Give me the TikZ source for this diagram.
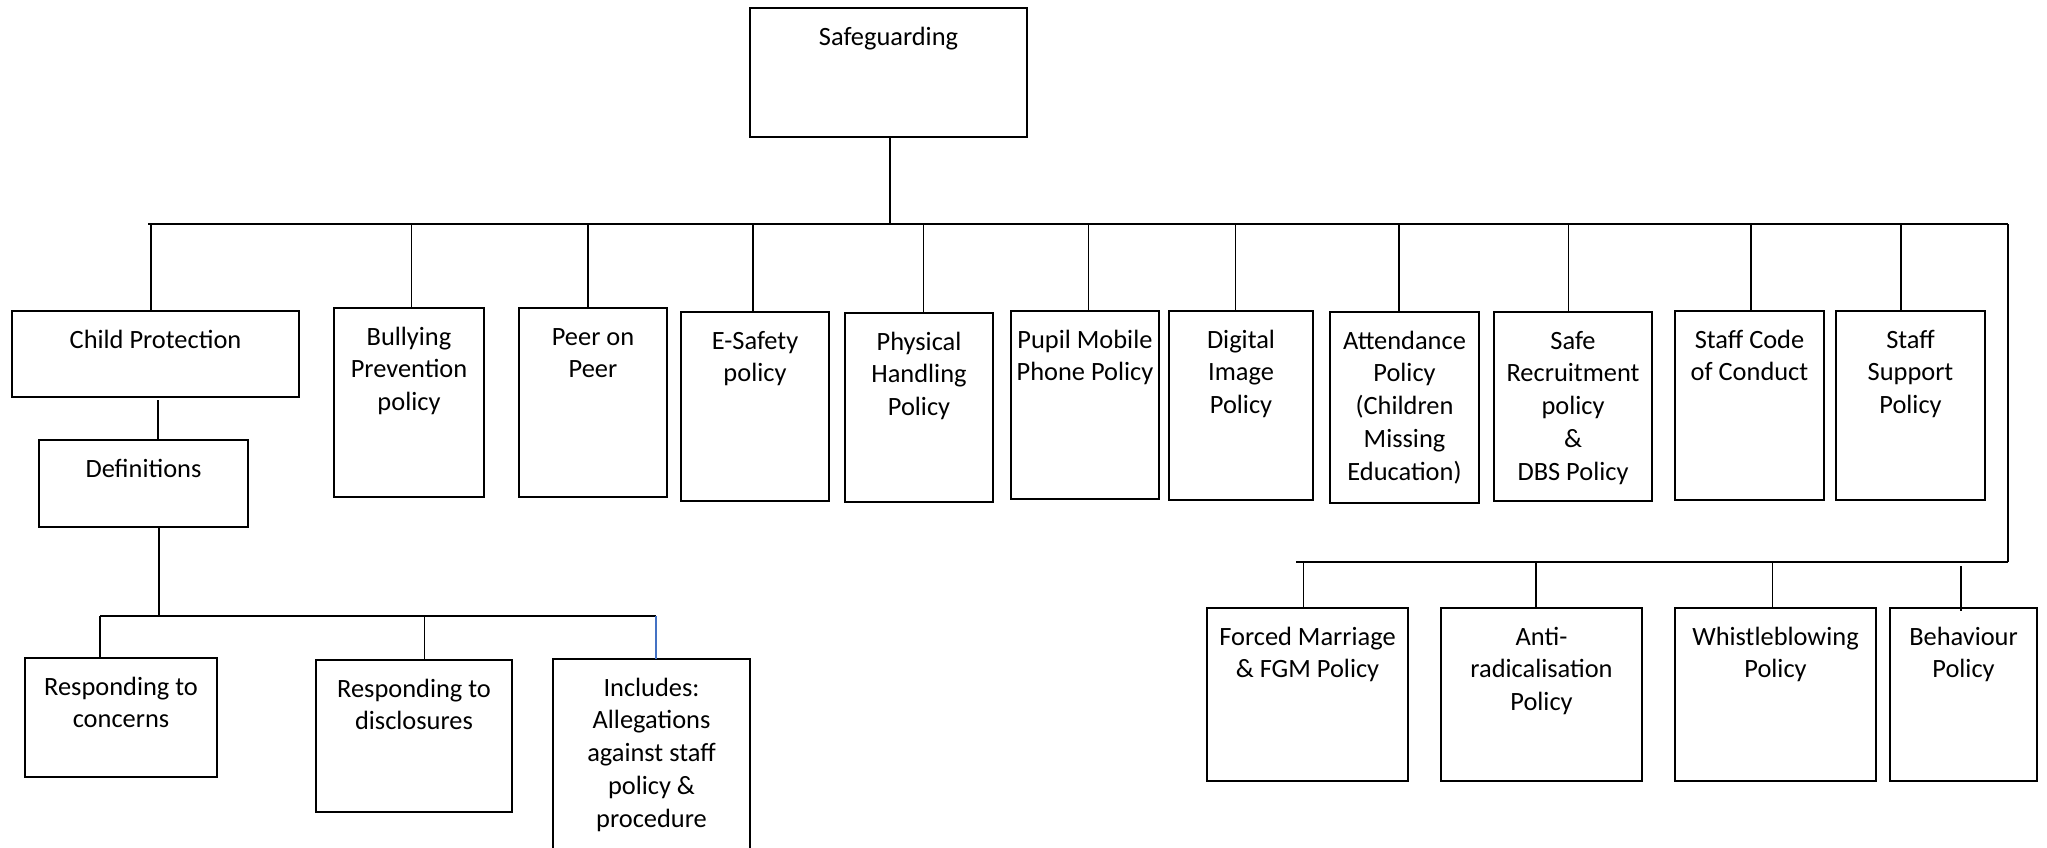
\documentclass[tikz,border=0pt]{standalone}
\usepackage{fontspec}
\setmainfont{Carlito}
\usetikzlibrary{calc}
\definecolor{linkblue}{RGB}{68,114,196}
\newcommand{\mlines}[1]{\begin{tabular}[t]{@{}c@{}}#1\end{tabular}}
\begin{document}
\begin{tikzpicture}[x=1pt,y=-1pt,
  box/.style={draw, line width=1.6pt, inner sep=0pt, outer sep=0pt, anchor=north west},
  lbl/.style={anchor=base, inner sep=0pt, outer sep=0pt, font=\fontsize{26.4}{32.8}\selectfont},
  conn/.style={line width=1.4pt},
  busline/.style={line width=1.8pt}]
\fill[white] (0,0) rectangle (2047,847);
\useasboundingbox (0,0) rectangle (2047,847);
\clip (0,0) rectangle (2047,847);

% boxes
\node[box, minimum width=277pt, minimum height=129pt] (safe) at (750,8) {};
\node[box, minimum width=287pt, minimum height=86pt] (cp) at (12,311) {};
\node[box, minimum width=150pt, minimum height=189pt] (bully) at (334,308) {};
\node[box, minimum width=148pt, minimum height=189pt] (peer) at (519,308) {};
\node[box, minimum width=148pt, minimum height=189pt] (esafe) at (681,312) {};
\node[box, minimum width=148pt, minimum height=189pt] (phys) at (845,313) {};
\node[box, minimum width=148pt, minimum height=188pt] (pupil) at (1011,311) {};
\node[box, minimum width=144pt, minimum height=189pt] (digi) at (1169,311) {};
\node[box, minimum width=149pt, minimum height=191pt] (attend) at (1330,312) {};
\node[box, minimum width=158pt, minimum height=189pt] (safer) at (1494,312) {};
\node[box, minimum width=149pt, minimum height=189pt] (code) at (1675,311) {};
\node[box, minimum width=149pt, minimum height=189pt] (support) at (1836,311) {};
\node[box, minimum width=209pt, minimum height=87pt] (defs) at (39,440) {};
\node[box, minimum width=192pt, minimum height=119pt] (rconc) at (25,658) {};
\node[box, minimum width=196pt, minimum height=152pt] (rdisc) at (316,660) {};
\node[box, minimum width=197pt, minimum height=220pt] (incl) at (553,659) {};
\node[box, minimum width=201pt, minimum height=173pt] (forced) at (1207,608) {};
\node[box, minimum width=201pt, minimum height=173pt] (anti) at (1441,608) {};
\node[box, minimum width=201pt, minimum height=173pt] (whistle) at (1675,608) {};
\node[box, minimum width=147pt, minimum height=173pt] (behav) at (1890,608) {};

% texts
\node[lbl] (t-safe) at ([yshift=-37pt]safe.north) {\mlines{Safeguarding}};
\node[lbl] (t-cp) at ([yshift=-37pt]cp.north) {\mlines{Child Protection}};
\node[lbl] (t-bully) at ([yshift=-37pt]bully.north) {\mlines{Bullying\\Prevention\\policy}};
\node[lbl] (t-peer) at ([yshift=-37pt]peer.north) {\mlines{Peer on\\Peer}};
\node[lbl] (t-esafe) at ([yshift=-37pt]esafe.north) {\mlines{E-Safety\\policy}};
\node[lbl] (t-phys) at ([yshift=-37pt]phys.north) {\mlines{Physical\\Handling\\Policy}};
\node[lbl] (t-pupil) at ([yshift=-37pt]pupil.north) {\mlines{Pupil Mobile\\Phone Policy}};
\node[lbl] (t-digi) at ([yshift=-37pt]digi.north) {\mlines{Digital\\Image\\Policy}};
\node[lbl] (t-attend) at ([yshift=-37pt]attend.north) {\mlines{Attendance\\Policy\\(Children\\Missing\\Education)}};
\node[lbl] (t-safer) at ([yshift=-37pt]safer.north) {\mlines{Safe\\Recruitment\\policy\\\&\\DBS Policy}};
\node[lbl] (t-code) at ([yshift=-37pt]code.north) {\mlines{Staff Code\\of Conduct}};
\node[lbl] (t-support) at ([yshift=-37pt]support.north) {\mlines{Staff\\Support\\Policy}};
\node[lbl] (t-defs) at ([yshift=-37pt]defs.north) {\mlines{Definitions}};
\node[lbl] (t-rconc) at ([yshift=-37pt]rconc.north) {\mlines{Responding to\\concerns}};
\node[lbl] (t-rdisc) at ([yshift=-37pt]rdisc.north) {\mlines{Responding to\\disclosures}};
\node[lbl] (t-incl) at ([yshift=-37pt]incl.north) {\mlines{Includes:\\Allegations\\against staff\\policy \&\\procedure}};
\node[lbl] (t-forced) at ([yshift=-37pt]forced.north) {\mlines{Forced Marriage\\\& FGM Policy}};
\node[lbl] (t-anti) at ([yshift=-37pt]anti.north) {\mlines{Anti-\\radicalisation\\Policy}};
\node[lbl] (t-whistle) at ([yshift=-37pt]whistle.north) {\mlines{Whistleblowing\\Policy}};
\node[lbl] (t-behav) at ([yshift=-37pt]behav.north) {\mlines{Behaviour\\Policy}};

% bus coordinates
\coordinate (busL) at (148,224);
\coordinate (busR) at (2008,224);
\coordinate (lbusL) at (1296,562);
\coordinate (lbusR) at (2008,562);
\coordinate (sbusL) at (100,616);
\coordinate (sbusR) at (656,616);
\coordinate (behtop) at (1961,566);

% top level
\draw[conn] ([xshift=1.5pt]safe.south) -- ([xshift=1.5pt]safe.south |- busL);
\draw[busline] (busL) -- (busR);
\foreach \n/\s in {cp/-4.5, bully/2.5, peer/-5, esafe/-2, phys/4.6, pupil/3.7, digi/-5.4, attend/-5.5, safer/-4.3, code/1.5, support/-9.5}
  \draw[conn] ([xshift=\s pt]\n.north) -- ([xshift=\s pt]\n.north |- busL);

% right branch
\draw[busline] (busR) -- (lbusR);
\draw[busline] (lbusL) -- (lbusR);
\foreach \n/\s in {forced/-4, anti/-5.5, whistle/-3}
  \draw[conn] ([xshift=\s pt]\n.north) -- ([xshift=\s pt]\n.north |- lbusL);
\draw[conn] (behtop) -- ([yshift=-3pt]behtop |- behav.north);

% child protection branch
\draw[conn] ([xshift=2.5pt,yshift=-3pt]cp.south) -- ([xshift=2.5pt]cp.south |- defs.north);
\draw[conn] ([xshift=15.5pt]defs.south) -- ([xshift=15.5pt]defs.south |- sbusL);
\draw[busline] (sbusL) -- (sbusR);
\draw[conn] ([xshift=-21pt]rconc.north) -- ([xshift=-21pt]rconc.north |- sbusL);
\draw[conn] ([xshift=10.6pt]rdisc.north) -- ([xshift=10.6pt]rdisc.north |- sbusL);
\draw[conn, linkblue] (sbusR) -- (sbusR |- incl.north);
\end{tikzpicture}
\end{document}
